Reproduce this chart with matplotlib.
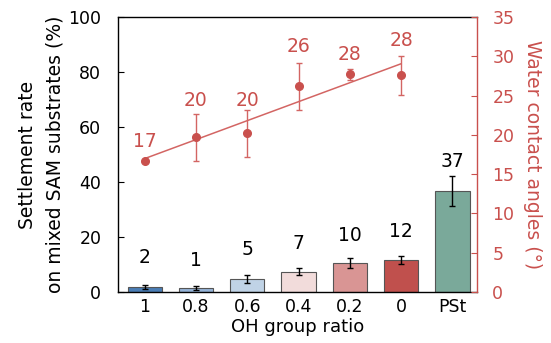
import matplotlib
matplotlib.use('Agg')
import matplotlib.pyplot as plt
import numpy as np

plt.rcParams['font.family'] = ['DejaVu Sans']

# data
ratios = ['1', '0.8', '0.6', '0.4', '0.2', '0', 'PSt']
settle = [1.8, 1.4, 4.6, 7.4, 10.4, 11.6, 36.8]
settle_err = [0.6, 0.6, 1.5, 1.4, 1.8, 1.5, 5.4]
settle_labels = ['2', '1', '5', '7', '10', '12', '37']
angle = [16.7, 19.7, 20.2, 26.2, 27.7, 27.6]
angle_err = [0.0, 3.0, 3.0, 3.0, 0.7, 2.5]
angle_labels = ['17', '20', '20', '26', '28', '28']

bar_colors = ['#4a7db5', '#95b3d7', '#c0d3e6', '#f2dcdb', '#d99594', '#c0504d', '#7aa99a']
red = '#c9504d'
line_red = '#d36563'

# text positions (data coords, left / right axis)
settle_label_y = [12.4, 11.4, 15.3, 17.5, 20.4, 22.0, 47.4]
angle_label_y = [19.1, 24.4, 24.4, 31.2, 30.2, 32.0]

fig = plt.figure(figsize=(5.51, 3.43), dpi=100)
ax = fig.add_axes((0.2142, 0.1487, 0.8657 - 0.2142, 0.9504 - 0.1487))
x = np.arange(len(ratios))
ax.bar(x, settle, width=0.67, color=bar_colors, edgecolor='#555555', linewidth=0.8, zorder=2)
ax.errorbar(x, settle, yerr=settle_err, fmt='none', ecolor='black', elinewidth=1, capsize=2, capthick=1, zorder=3)
for xi, yl, s in zip(x, settle_label_y, settle_labels):
    ax.text(xi, yl, s, ha='center', va='center', fontsize=13.5, color='black')

ax.set_xlim(-0.52, 6.48)
ax.set_ylim(0, 100)
ax.set_yticks(range(0, 101, 20))
ax.set_xticks(x)
ax.set_xticklabels(ratios)
ax.tick_params(axis='y', direction='in', length=4, labelsize=12.5, pad=12)
ax.tick_params(axis='x', length=0, labelsize=12.5, pad=4)
ax.set_xlabel('OH group ratio', fontsize=13, labelpad=2)
ax.set_ylabel('Settlement rate\non mixed SAM substrates (%)', fontsize=13.5, labelpad=3, linespacing=1.55)
ax.spines['right'].set_visible(False)
for sp in ['left', 'top', 'bottom']:
    ax.spines[sp].set_linewidth(1.0)

ax2 = ax.twinx()
xa = np.arange(len(angle))
coef = np.polyfit(xa, angle, 1)
ax2.plot([xa[0], xa[-1]], np.polyval(coef, [xa[0], xa[-1]]), color=line_red, linewidth=1.1)
ax2.errorbar(xa, angle, yerr=angle_err, fmt='o', color=red, markersize=5.5, ecolor=line_red,
             elinewidth=1, capsize=2.5, capthick=1)
for xi, yl, s in zip(xa, angle_label_y, angle_labels):
    ax2.text(xi, yl, s, ha='center', va='center', fontsize=13.5, color=red)
ax2.set_ylim(0, 35)
ax2.set_yticks(range(0, 36, 5))
ax2.tick_params(axis='y', direction='in', length=4, labelsize=12.5, colors=red, pad=11)
ax2.spines['right'].set_color(red)
ax2.spines['right'].set_linewidth(1.0)
for sp in ['left', 'top', 'bottom']:
    ax2.spines[sp].set_visible(False)
ax2.set_ylabel('Water contact angles (°)', fontsize=13.5, color=red, rotation=-90, labelpad=20)

fig.savefig('out.png', dpi=100)
